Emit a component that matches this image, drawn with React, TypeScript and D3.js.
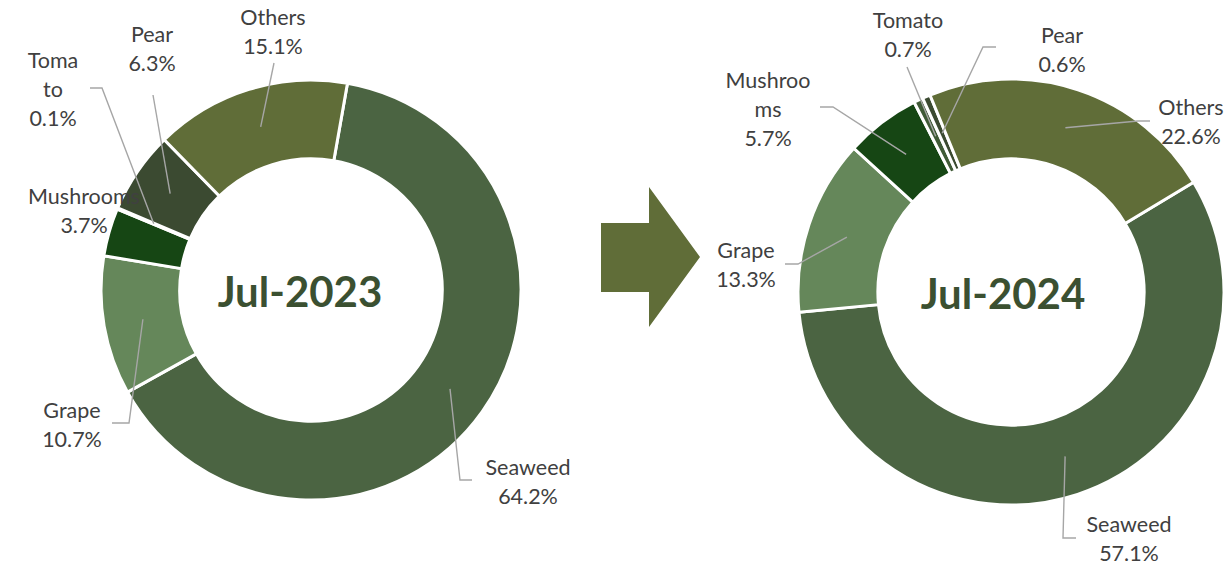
import React from 'react';
import * as d3 from 'd3';

const categories = ['Seaweed', 'Grape', 'Mushrooms', 'Tomato', 'Pear', 'Others'];
const jul2023 = [64.2, 10.7, 3.7, 0.1, 6.3, 15.1];
const jul2024 = [57.1, 13.3, 5.7, 0.7, 0.6, 22.6];
const periods = ['Jul-2023', 'Jul-2024'];

// how the label text wraps in each donut
const labelLines2023 = [['Seaweed'], ['Grape'], ['Mushrooms'], ['Toma', 'to'], ['Pear'], ['Others']];
const labelLines2024 = [['Seaweed'], ['Grape'], ['Mushroo', 'ms'], ['Tomato'], ['Pear'], ['Others']];

const colors2023 = ['#4b6442', '#65875a', '#164614', '#2f4a2a', '#3b4a31', '#606d38'];
const colors2024 = ['#4b6442', '#65875a', '#164614', '#3f5a36', '#3b4a31', '#606d38'];

const W = 1229;
const H = 567;
const LINE = 29;
const labelColor = '#404040';
const leaderColor = '#a6a6a6';

type Lbl = { x: number; y: number; elbow?: [number, number]; end?: [number, number] };

// label anchors (text centre x, first baseline y) and leader line bends
const layout2023: Lbl[] = [
  { x: 528, y: 475, elbow: [460, 480], end: [472, 480] },
  { x: 72, y: 418, elbow: [129, 423], end: [112, 423] },
  { x: 84, y: 204 },
  { x: 53, y: 68, elbow: [102, 88], end: [90, 88] },
  { x: 152, y: 42, elbow: [153, 95] },
  { x: 273, y: 25, elbow: [274, 63] },
];
const layout2024: Lbl[] = [
  { x: 1129, y: 532, elbow: [1063, 538], end: [1076, 538] },
  { x: 746, y: 258, elbow: [798, 264], end: [785, 264] },
  { x: 768, y: 88, elbow: [833, 107], end: [820, 107] },
  { x: 908, y: 28, elbow: [907, 67] },
  { x: 1062, y: 43, elbow: [983, 47], end: [996, 47] },
  { x: 1191, y: 115, elbow: [1138, 121], end: [1150, 121] },
];

const Donut = ({ cx, cy, r, values, colors, start, title, titleDx, lines, layout }: any) => {
  const inner = r * 0.625;
  const a0 = (start * Math.PI) / 180;
  const pie = d3.pie<number>().sort(null).startAngle(a0).endAngle(a0 + 2 * Math.PI);
  const arc = d3.arc<d3.PieArcDatum<number>>().innerRadius(inner).outerRadius(r);
  const arcs = pie(values);
  return (
    <g>
      <g transform={`translate(${cx},${cy})`}>
        {arcs.map((a, i) => (
          <path key={i} d={arc(a) || ''} fill={colors[i]} stroke="#fff" strokeWidth={3} strokeLinejoin="round" />
        ))}
        <text x={titleDx} y={17} textAnchor="middle" fontFamily="Lato, sans-serif" fontWeight="bold" fontSize={42} fill="#3b5031">
          {title}
        </text>
      </g>
      {arcs.map((a, i) => {
        const l: Lbl = layout[i];
        if (!l.elbow) return null;
        const c = arc.centroid(a);
        const pts: [number, number][] = [[cx + c[0], cy + c[1]], l.elbow];
        if (l.end) pts.push(l.end);
        return <path key={'l' + i} d={d3.line()(pts) || ''} fill="none" stroke={leaderColor} strokeWidth={1.4} />;
      })}
      {arcs.map((a, i) => {
        const l: Lbl = layout[i];
        const rows = [...lines[i], d3.format('.1f')(values[i]) + '%'];
        return (
          <text key={'t' + i} textAnchor="middle" fontFamily="Lato, sans-serif" fontSize={21.5} fill={labelColor}>
            {rows.map((s: string, j: number) => (
              <tspan key={j} x={l.x} y={l.y + j * LINE}>{s}</tspan>
            ))}
          </text>
        );
      })}
    </g>
  );
};

export default function App() {
  const arrowX = d3.scaleLinear().domain([0, 1]).range([601, 700]);
  const arrow = [
    [arrowX(0), 223], [arrowX(0.485), 223], [arrowX(0.485), 187], [arrowX(1), 257],
    [arrowX(0.485), 327], [arrowX(0.485), 292], [arrowX(0), 292],
  ] as [number, number][];
  return (
    <svg width={W} height={H} style={{ position: 'absolute', left: 0, top: 0, background: '#fff' }}>
      <Donut cx={311} cy={290} r={210} values={jul2023} colors={colors2023} start={10}
        title={periods[0]} titleDx={-11} lines={labelLines2023} layout={layout2023} />
      <Donut cx={1011} cy={292} r={213} values={jul2024} colors={colors2024} start={59}
        title={periods[1]} titleDx={-8} lines={labelLines2024} layout={layout2024} />
      <path d={(d3.line()(arrow) || '') + 'Z'} fill="#606d38" />
    </svg>
  );
}
